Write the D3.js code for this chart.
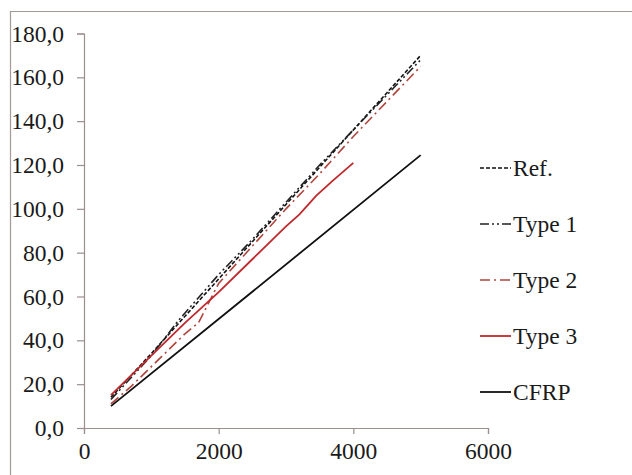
<!DOCTYPE html>
<html lang="en">
<head>
<meta charset="UTF-8">
<title>Chart</title>
<style>
  body { margin: 0; background: #fff; }
  text { font-family: "Liberation Serif", "Times New Roman", serif; fill: #1a1a1a; }
</style>
</head>
<body>
<svg id="chart" width="632" height="475"></svg>
<script src="https://cdn.jsdelivr.net/npm/d3@7/dist/d3.min.js"></script>
<script>
// data
let xTicks = [0, 2000, 4000, 6000]
let yTicks = [0, 20, 40, 60, 80, 100, 120, 140, 160, 180]

let refX = [400, 1000, 1500, 2000, 2500, 3000, 3500, 4000, 4500, 5000]
let refY = [14, 34, 51, 68, 85, 102, 119, 136, 153, 170]

let type1X = [400, 1000, 1400, 2000, 2500, 3000, 3500, 4000, 4500, 5000]
let type1Y = [13, 33, 49, 70, 86, 103, 120, 136, 152, 168]

let type2X = [400, 700, 1000, 1500, 1700, 2000, 2500, 3000, 3500, 4000, 4500, 5000]
let type2Y = [11, 19, 28, 43, 48, 66, 83, 100, 116, 133, 149, 165]

let type3X = [400, 1000, 1500, 2000, 2500, 3000, 3200, 3450, 3700, 4000]
let type3Y = [15, 33, 48, 62, 77, 92, 97.5, 106, 113, 121]

let cfrpX = [400, 2000, 5000]
let cfrpY = [10, 49.7, 124.5]

let series = [
    { name: "Ref.", xs: refX, ys: refY, color: "#111", dash: "4,2", width: 1.6 },
    { name: "Type 1", xs: type1X, ys: type1Y, color: "#222", dash: "9,3,2,3,2,3", width: 1.6 },
    { name: "Type 2", xs: type2X, ys: type2Y, color: "#b0443c", dash: "10,4,2,4", width: 1.6 },
    { name: "Type 3", xs: type3X, ys: type3Y, color: "#c0282d", dash: null, width: 1.8 },
    { name: "CFRP", xs: cfrpX, ys: cfrpY, color: "#111", dash: null, width: 1.8 }
]

let svg = d3.select("#chart")

// outer frame (left and top only visible)
svg.append("path")
    .attr("d", "M10.5,475 L10.5,11.5 L632,11.5")
    .attr("fill", "none")
    .attr("stroke", "#a39a97")
    .attr("stroke-width", 1.2)

let xScale = d3.scaleLinear().domain([0, 6000]).range([84, 488])
let yScale = d3.scaleLinear().domain([0, 180]).range([428, 33.5])

let axisColor = "#9a8f8c"

let yAxis = d3.axisLeft(yScale)
    .tickValues(yTicks)
    .tickSize(7)
    .tickPadding(13)
    .tickFormat(d => d.toFixed(1).replace(".", ","))
let yG = svg.append("g").attr("transform", "translate(84,0)").call(yAxis)

let xAxis = d3.axisBottom(xScale)
    .tickValues(xTicks)
    .tickSize(6)
    .tickPadding(8)
    .tickFormat(d => d)
let xG = svg.append("g").attr("transform", "translate(0,428)").call(xAxis)

for (let g of [xG, yG]) {
    g.select(".domain").attr("stroke", axisColor).attr("stroke-width", 1.2)
    g.selectAll(".tick line").attr("stroke", axisColor).attr("stroke-width", 1.2)
    g.selectAll(".tick text")
        .attr("font-size", 23.5)
        .attr("fill", "#1a1a1a")
}

let line = d3.line()
    .x(d => xScale(d[0]))
    .y(d => yScale(d[1]))

svg.append("g").selectAll("path")
    .data(series)
    .join("path")
    .attr("d", s => line(s.xs.map((x, i) => [x, s.ys[i]])))
    .attr("fill", "none")
    .attr("stroke", s => s.color)
    .attr("stroke-width", s => s.width)
    .attr("stroke-dasharray", s => s.dash)

// legend
let legend = svg.append("g").selectAll("g")
    .data(series)
    .join("g")
    .attr("transform", (s, i) => `translate(480, ${168 + i * 56})`)

legend.append("line")
    .attr("x1", 0).attr("x2", 31)
    .attr("stroke", s => s.color)
    .attr("stroke-width", s => s.width)
    .attr("stroke-dasharray", s => s.dash)

legend.append("text")
    .attr("x", 33)
    .attr("y", 8)
    .attr("font-size", 23.5)
    .text(s => s.name)
</script>
</body>
</html>
